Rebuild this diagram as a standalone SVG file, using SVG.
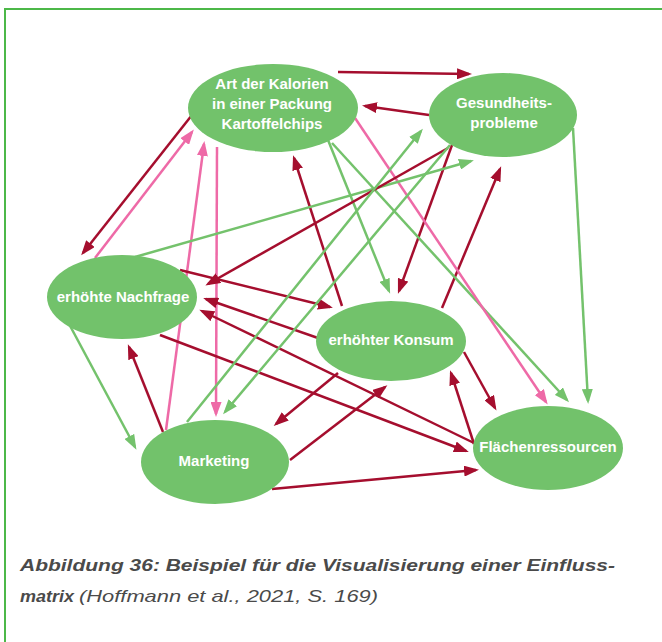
<svg xmlns="http://www.w3.org/2000/svg" width="662" height="642" viewBox="0 0 662 642">
<style>
.r{stroke:#a50e2e;stroke-width:2.5;fill:none;marker-end:url(#ar)}
.p{stroke:#ee6aa7;stroke-width:2.5;fill:none;marker-end:url(#ap)}
.g{stroke:#74c26c;stroke-width:2.5;fill:none;marker-end:url(#ag)}
.node ellipse{fill:#72c26b}
.node text{font-family:"Liberation Sans",Arial,sans-serif;font-weight:bold;font-size:15px;fill:#fff;text-anchor:middle}
.cap{font-family:"Liberation Sans",Arial,sans-serif;font-size:17px;fill:#4a4a4a;font-style:italic}
</style>
<defs>
<marker id="ar" viewBox="0 0 15 11" refX="12" refY="5.5" markerWidth="15" markerHeight="11" markerUnits="userSpaceOnUse" orient="auto"><path d="M0,0 L15,5.5 L0,11 z" fill="#a50e2e"/></marker>
<marker id="ap" viewBox="0 0 15 11" refX="12" refY="5.5" markerWidth="15" markerHeight="11" markerUnits="userSpaceOnUse" orient="auto"><path d="M0,0 L15,5.5 L0,11 z" fill="#ee6aa7"/></marker>
<marker id="ag" viewBox="0 0 15 11" refX="12" refY="5.5" markerWidth="15" markerHeight="11" markerUnits="userSpaceOnUse" orient="auto"><path d="M0,0 L15,5.5 L0,11 z" fill="#74c26c"/></marker>
</defs>
<rect width="662" height="642" fill="#fff"/>
<path d="M5,642 V9 H662" fill="none" stroke="#4cb848" stroke-width="2"/>
<g id="connectors">
<line class="r" x1="338" y1="72" x2="469" y2="74"/>
<line class="r" x1="429" y1="115" x2="365" y2="106"/>
<line class="r" x1="192" y1="115" x2="83" y2="253"/>
<line class="p" x1="95" y1="258" x2="192" y2="132"/>
<line class="p" x1="166" y1="430" x2="204" y2="144"/>
<line class="p" x1="217" y1="147" x2="216" y2="414"/>
<line class="r" x1="342" y1="306" x2="294" y2="158"/>
<line class="g" x1="328" y1="140" x2="389" y2="291"/>
<line class="r" x1="452" y1="145" x2="399" y2="291"/>
<line class="r" x1="442" y1="308" x2="500" y2="169"/>
<line class="g" x1="332" y1="143" x2="567" y2="400"/>
<line class="p" x1="355" y1="118" x2="546" y2="402"/>
<line class="g" x1="573" y1="128" x2="588" y2="401"/>
<line class="g" x1="135" y1="257" x2="471" y2="161"/>
<line class="r" x1="448" y1="148" x2="208" y2="284"/>
<line class="r" x1="180" y1="270" x2="330" y2="307"/>
<line class="r" x1="318" y1="338" x2="206" y2="299"/>
<line class="r" x1="160" y1="335" x2="466" y2="451"/>
<line class="r" x1="474" y1="443" x2="202" y2="311"/>
<line class="g" x1="450" y1="145" x2="225" y2="412"/>
<line class="g" x1="187" y1="422" x2="421" y2="131"/>
<line class="g" x1="68" y1="322" x2="135" y2="447"/>
<line class="r" x1="163" y1="432" x2="129" y2="347"/>
<line class="r" x1="338" y1="373" x2="276" y2="424"/>
<line class="r" x1="290" y1="460" x2="385" y2="387"/>
<line class="r" x1="272" y1="489" x2="476" y2="470"/>
<line class="r" x1="464" y1="352" x2="495" y2="408"/>
<line class="r" x1="474" y1="444" x2="451" y2="373"/>
</g>
<g id="art" class="node"><ellipse cx="273" cy="108" rx="85" ry="44"/><text x="272" y="89">Art der Kalorien</text><text x="272" y="109">in einer Packung</text><text x="272" y="129">Kartoffelchips</text></g>
<g id="gesundheit" class="node"><ellipse cx="503" cy="115" rx="74" ry="42"/><text x="504" y="108">Gesundheits-</text><text x="504" y="128">probleme</text></g>
<g id="nachfrage" class="node"><ellipse cx="122" cy="297" rx="75" ry="42"/><text x="123" y="302">erhöhte Nachfrage</text></g>
<g id="konsum" class="node"><ellipse cx="391" cy="341" rx="75" ry="40"/><text x="391" y="345">erhöhter Konsum</text></g>
<g id="marketing" class="node"><ellipse cx="215" cy="462" rx="74" ry="42"/><text x="214" y="466">Marketing</text></g>
<g id="flaechen" class="node"><ellipse cx="548" cy="448" rx="75" ry="42"/><text x="548" y="452">Flächenressourcen</text></g>
<text class="cap" x="20" y="571" font-weight="bold" textLength="595" lengthAdjust="spacingAndGlyphs">Abbildung 36: Beispiel für die Visualisierung einer Einfluss-</text>
<text class="cap" x="20" y="602" font-weight="bold" textLength="54" lengthAdjust="spacingAndGlyphs">matrix</text>
<text class="cap" x="79" y="602" textLength="299" lengthAdjust="spacingAndGlyphs">(Hoffmann et al., 2021, S. 169)</text>
</svg>
